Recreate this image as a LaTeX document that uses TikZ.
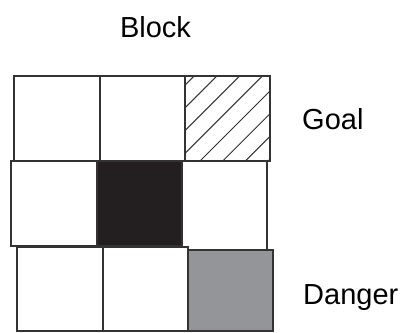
\documentclass[tikz,border=0pt]{standalone}
\usepackage{fontspec}
\setmainfont{Liberation Sans}
\definecolor{edge}{HTML}{333333}
\definecolor{blockfill}{HTML}{231F20}
\definecolor{dangerfill}{HTML}{939598}
\begin{document}
\begin{tikzpicture}[x=1pt,y=-1pt,
  cell/.style={draw=edge, line width=1.6pt, inner sep=0pt, outer sep=0pt, anchor=north west, fill=white},
  lbl/.style={font=\fontsize{29}{34}\selectfont, text=black, inner sep=0pt},
  hatch/.style={draw=edge, line width=1pt}]
\useasboundingbox (0,0) rectangle (406,332);
% row 1
\node[cell, minimum width=86pt, minimum height=85pt] (c11) at (14,76) {};
\node[cell, minimum width=85pt, minimum height=85pt] (c12) at (100,76) {};
\node[cell, minimum width=85pt, minimum height=85pt] (c13) at (185,76) {};
\begin{scope}
  \clip (c13.north west) rectangle (c13.south east);
  \foreach \k in {-4,...,3} {
    \draw[hatch] ({200+22.7*\k},161) -- ({285+22.7*\k},76);
  }
\end{scope}
\node[cell, fill=none, minimum width=85pt, minimum height=85pt] (c13b) at (185,76) {};
% row 2
\node[cell, minimum width=86pt, minimum height=85pt] (c21) at (11,161) {};
\node[cell, fill=blockfill, minimum width=85pt, minimum height=85pt] (c22) at (97,161) {};
\node[cell, minimum width=85pt, minimum height=89pt] (c23) at (182,161) {};
% row 3
\node[cell, minimum width=86pt, minimum height=84pt] (c31) at (17,247) {};
\node[cell, minimum width=85pt, minimum height=84pt] (c32) at (103,247) {};
\node[cell, fill=dangerfill, minimum width=85pt, minimum height=81pt] (c33) at (188,250) {};
% labels
\node[lbl, anchor=base] (block) at (155.5,37) {Block};
\node[lbl, anchor=base west] (goal) at (302,129) {Goal};
\node[lbl, anchor=base west] (danger) at (303,304) {Danger};
\end{tikzpicture}
\end{document}
